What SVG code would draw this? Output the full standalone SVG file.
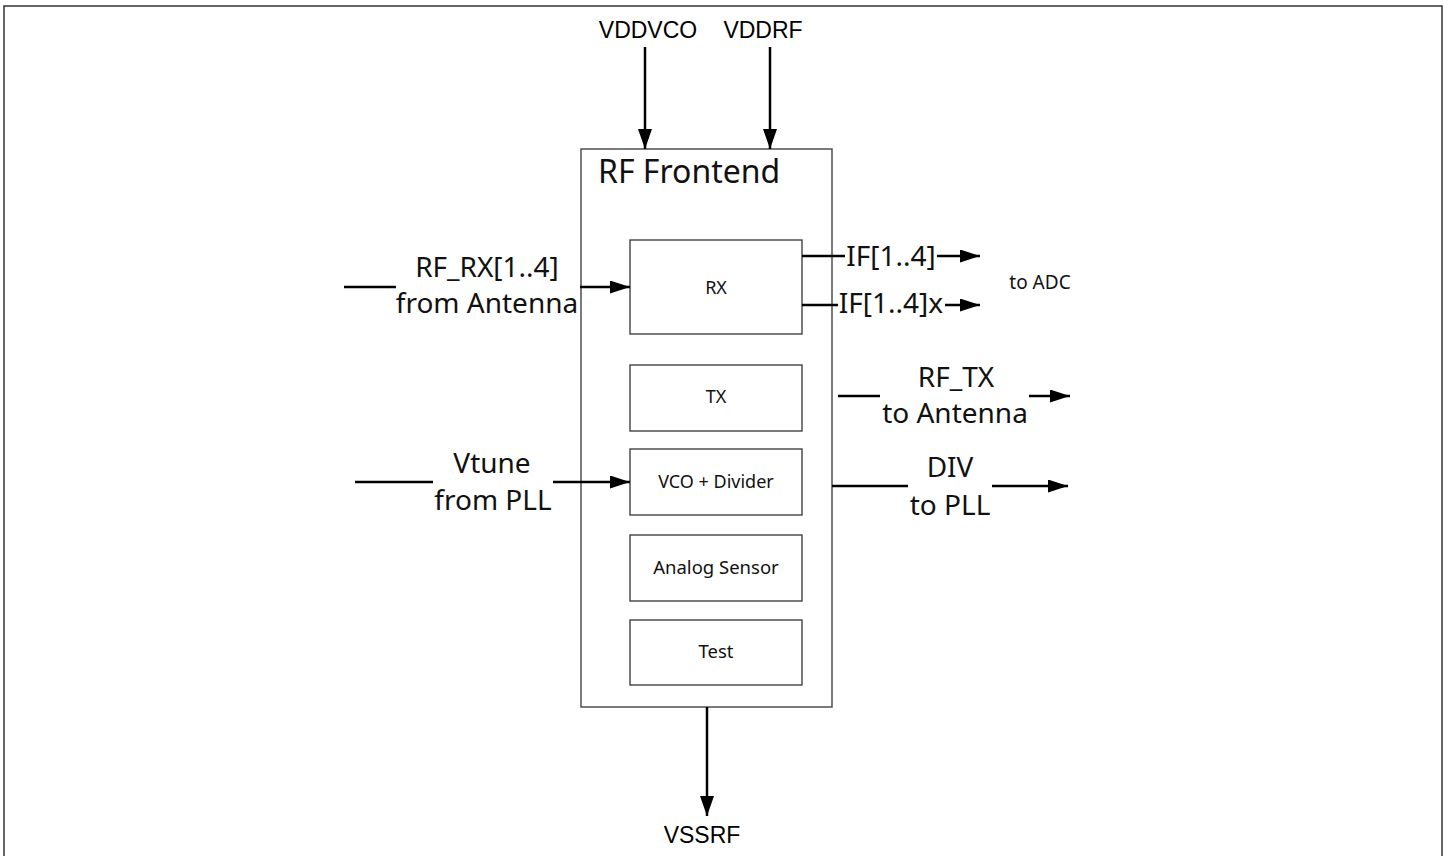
<svg xmlns="http://www.w3.org/2000/svg" width="1450" height="856" viewBox="0 0 1450 856">
<defs>
<style>
.frame{fill:none;stroke:#333;stroke-width:1.5}
.main{fill:#fff;stroke:#444;stroke-width:1.4}
.blk{fill:#fff;stroke:#333;stroke-width:1.3}
.wire{fill:none;stroke:#000;stroke-width:2.5}
.lbl{font-family:"Noto Sans","Open Sans",sans-serif;fill:#111;text-anchor:middle}
.big{font-size:28px}
.pin{font-family:"Liberation Sans",Arial,sans-serif;font-size:23px;fill:#000;text-anchor:middle}
.small{font-size:18px}
</style>
<marker id="ah" viewBox="0 0 20 14" refX="20" refY="7" markerWidth="20" markerHeight="14" markerUnits="userSpaceOnUse" orient="auto">
<path d="M0,0 L20,7 L0,14 z" fill="#000"/>
</marker>
<marker id="ahs" viewBox="0 0 20 13" refX="20" refY="6.5" markerWidth="20" markerHeight="13" markerUnits="userSpaceOnUse" orient="auto">
<path d="M0,0 L20,6.5 L0,13 z" fill="#000"/>
</marker>
</defs>
<rect width="1450" height="856" fill="#fff"/>
<path class="frame" d="M4,860 L4,6 L1442,6 L1442,860"/>

<g id="rf-frontend">
<rect class="main" x="581" y="149" width="251" height="558"/>
<text class="lbl" x="598" y="183" font-size="32" style="text-anchor:start">RF Frontend</text>
</g>
<g id="rx">
<rect class="blk" x="630" y="240" width="172" height="94"/>
<text class="lbl small" x="716" y="294">RX</text>
</g>
<g id="tx">
<rect class="blk" x="630" y="365" width="172" height="66"/>
<text class="lbl small" x="716" y="403">TX</text>
</g>
<g id="vco">
<rect class="blk" x="630" y="449" width="172" height="66"/>
<text class="lbl small" x="716" y="488">VCO + Divider</text>
</g>
<g id="sensor">
<rect class="blk" x="630" y="535" width="172" height="66"/>
<text class="lbl" x="716" y="574" font-size="18.5">Analog Sensor</text>
</g>
<g id="test">
<rect class="blk" x="630" y="620" width="172" height="65"/>
<text class="lbl" x="716" y="658" font-size="18.5">Test</text>
</g>

<g id="connectors">
<line class="wire" x1="645" y1="47" x2="645" y2="149" marker-end="url(#ah)"/>
<line class="wire" x1="770" y1="47" x2="770" y2="149" marker-end="url(#ah)"/>
<line class="wire" x1="707" y1="707" x2="707" y2="816" marker-end="url(#ah)"/>
<line class="wire" x1="344" y1="287" x2="396" y2="287"/>
<line class="wire" x1="580" y1="287" x2="630" y2="287" marker-end="url(#ahs)"/>
<line class="wire" x1="355" y1="482" x2="433" y2="482"/>
<line class="wire" x1="553" y1="482" x2="630" y2="482" marker-end="url(#ahs)"/>
<line class="wire" x1="802" y1="256" x2="845" y2="256"/>
<line class="wire" x1="937" y1="256" x2="980" y2="256" marker-end="url(#ahs)"/>
<line class="wire" x1="802" y1="305" x2="838" y2="305"/>
<line class="wire" x1="945" y1="305" x2="980" y2="305" marker-end="url(#ahs)"/>
<line class="wire" x1="838" y1="396" x2="880" y2="396"/>
<line class="wire" x1="1029" y1="396" x2="1070" y2="396" marker-end="url(#ahs)"/>
<line class="wire" x1="832" y1="486" x2="908" y2="486"/>
<line class="wire" x1="992" y1="486" x2="1068" y2="486" marker-end="url(#ahs)"/>
</g>

<g id="labels">
<text class="pin" x="648" y="38">VDDVCO</text>
<text class="pin" x="763" y="38">VDDRF</text>
<text class="pin" x="702" y="843">VSSRF</text>
<text class="lbl big" x="487" y="277">RF_RX[1..4]</text>
<text class="lbl big" x="487" y="313">from Antenna</text>
<text class="lbl big" x="492" y="473">Vtune</text>
<text class="lbl big" x="493" y="510">from PLL</text>
<text class="lbl big" x="891" y="266">IF[1..4]</text>
<text class="lbl big" x="891" y="313">IF[1..4]x</text>
<text class="lbl" x="1040" y="289" font-size="19">to ADC</text>
<text class="lbl big" x="956" y="387">RF_TX</text>
<text class="lbl big" x="955" y="423">to Antenna</text>
<text class="lbl big" x="950" y="477">DIV</text>
<text class="lbl big" x="950" y="515">to PLL</text>
</g>
</svg>
